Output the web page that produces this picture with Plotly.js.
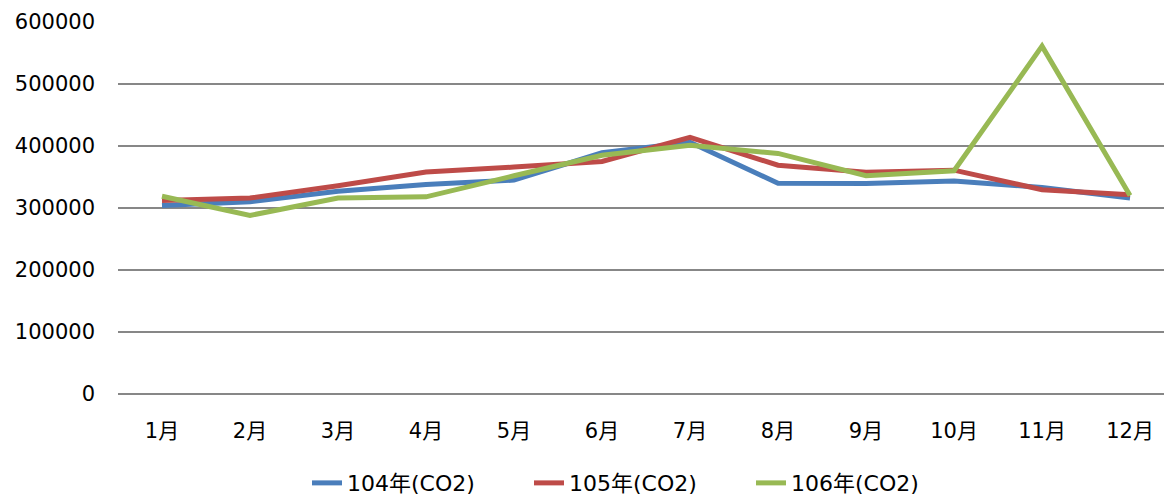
<!DOCTYPE html>
<html>
<head>
<meta charset="utf-8">
<script src="https://cdn.plot.ly/plotly-3.0.1.min.js"></script>
<style>
  html, body { margin: 0; padding: 0; background: #ffffff; }
  #chart { width: 1164px; height: 497px; }
</style>
</head>
<body>
<div id="chart"></div>
<script>
const months = ['1月','2月','3月','4月','5月','6月','7月','8月','9月','10月','11月','12月'];
const seriesNames = ['104年(CO2)','105年(CO2)','106年(CO2)'];
const co2_104 = [304000, 310000, 327000, 338000, 345000, 389000, 406000, 340000, 339500, 343500, 333000, 316000];
const co2_105 = [312000, 316000, 336000, 358000, 366000, 375000, 414000, 369000, 357500, 361000, 329500, 321500];
const co2_106 = [319000, 288000, 316000, 318000, 352000, 385000, 401000, 388000, 352000, 360000, 561000, 320000];
const yTicks = [0, 100000, 200000, 300000, 400000, 500000, 600000];

const colors = ['#4A7EBB', '#BE4B48', '#98B954'];
const allSeries = [co2_104, co2_105, co2_106];

const traces = allSeries.map((vals, i) => ({
  type: 'scatter',
  mode: 'lines',
  x: months,
  y: vals,
  name: seriesNames[i],
  line: { color: colors[i], width: 5 },
  hoverinfo: 'x+y+name'
}));

const fontFam = 'DejaVu Sans, Noto Sans CJK TC, sans-serif';

const layout = {
  width: 1164,
  height: 497,
  margin: { l: 118, r: 0, t: 22, b: 103, pad: 0, autoexpand: false },
  paper_bgcolor: '#ffffff',
  plot_bgcolor: '#ffffff',
  showlegend: true,
  font: { family: fontFam, size: 21, color: '#000000' },
  xaxis: {
    type: 'category',
    range: [-0.5, 11.386],
    showgrid: false,
    zeroline: false,
    showline: false,
    ticks: '',
    ticklabelstandoff: 22,
    tickfont: { family: fontFam, size: 21, color: '#000000' },
    fixedrange: true
  },
  yaxis: {
    range: [0, 600000],
    tickvals: yTicks,
    ticktext: yTicks.map(v => String(v)),
    showgrid: true,
    gridcolor: '#878787',
    gridwidth: 2,
    zeroline: true,
    zerolinecolor: '#878787',
    zerolinewidth: 2,
    showline: false,
    ticks: '',
    ticklabelstandoff: 22,
    tickfont: { family: fontFam, size: 21, color: '#000000' },
    fixedrange: true
  },
  legend: {
    orientation: 'h',
    x: 0.1807,
    xanchor: 'left',
    yref: 'container',
    y: 0.028,
    yanchor: 'middle',
    entrywidth: 177,
    entrywidthmode: 'pixels',
    font: { family: fontFam, size: 22, color: '#000000' },
    bgcolor: 'rgba(0,0,0,0)'
  }
};

Plotly.newPlot('chart', traces, layout, { displayModeBar: false, staticPlot: true });
</script>
</body>
</html>
